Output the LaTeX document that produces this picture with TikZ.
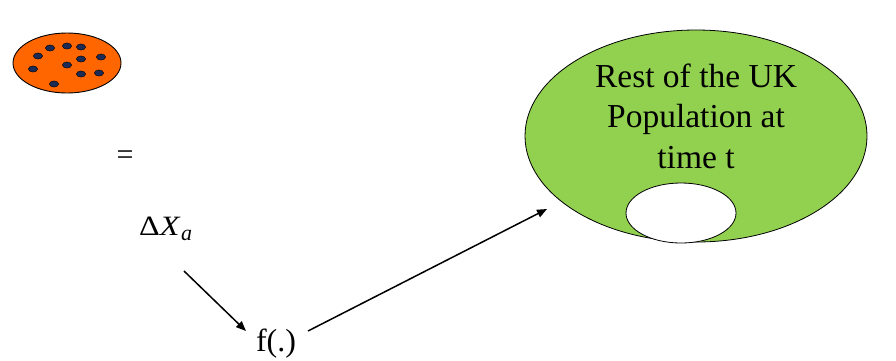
\documentclass[tikz,border=0pt]{standalone}
\usepackage{fontspec}
\setmainfont{Liberation Serif}
\usetikzlibrary{arrows.meta}
\definecolor{cellorange}{HTML}{FF6600}
\definecolor{dotnavy}{HTML}{1C2A56}
\definecolor{popgreen}{HTML}{92D050}
\begin{document}
\begin{tikzpicture}[x=1pt,y=-1pt,
  flow/.style={line width=1.5pt,-{Triangle[length=10pt,width=8pt]}},
  dot/.style={fill=dotnavy,draw=black,line width=0.4pt},
  lbl/.style={inner sep=0pt,font=\fontsize{28}{32}\selectfont}]
\useasboundingbox (0,0) rectangle (896,360);
% small sample group
\draw[fill=cellorange,line width=0.9pt] (67,63) ellipse [x radius=54,y radius=30];
\foreach \p in {(50,48),(67,46),(81,47),(38,56),(81,59),(101,57),(33,69),(67,65),(81,74),(99,73),(54,84)}
  \fill[dot] \p ellipse [x radius=4.6,y radius=3.1];
% rest of the population
\draw[fill=popgreen,line width=0.8pt] (696,136) ellipse [x radius=171,y radius=106];
\draw[fill=white,line width=0.8pt] (681,213) ellipse [x radius=55,y radius=30];
\node[align=center,font=\fontsize{33.5}{40.5}\selectfont,inner sep=0pt,anchor=base] (rest) at (696,168)
  {Rest of the UK\\Population at\\time t};
% labels and flow
\node[lbl,font=\fontsize{30}{32}\selectfont] (eq) at (125,158) {=};
\node[lbl,anchor=base west] (dx) at (139,235) {\scalebox{1.15}[1]{Δ\textit{X}}\kern0.5pt\raisebox{-0.2em}{\fontsize{22}{24}\selectfont\textit{a}}};
\node[lbl,font=\fontsize{32}{36}\selectfont,anchor=base] (f) at (276,351) {f(.)};
\coordinate (s1) at (184,271);
\coordinate (e1) at (246,331);
\coordinate (s2) at (308,331);
\coordinate (target) at (547,209);
\draw[flow] (s1) -- (e1);
\draw[flow] (s2) -- (target);
\end{tikzpicture}
\end{document}
